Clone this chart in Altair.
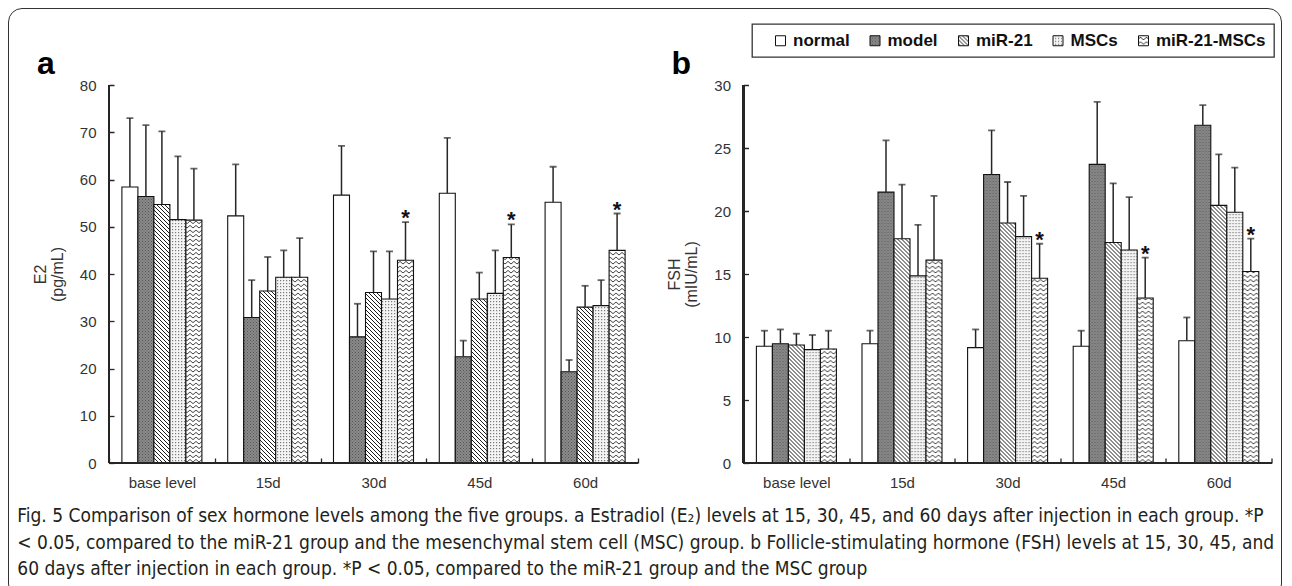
import altair as alt
import pandas as pd
import jinja2

# ---------------- data ----------------
TIMES = ["base level", "15d", "30d", "45d", "60d"]
GROUPS = ["normal", "model", "miR-21", "MSCs", "miR-21-MSCs"]

# Panel a: Estradiol (E2, pg/mL) — mean and SD per group over TIMES
E2_NORMAL = [58.4, 52.3, 56.7, 57.1, 55.2]
E2_MODEL = [56.4, 30.8, 26.7, 22.5, 19.3]
E2_MIR21 = [54.7, 36.4, 36.1, 34.7, 33.0]
E2_MSCS = [51.5, 39.3, 34.7, 35.9, 33.3]
E2_MIRMSCS = [51.4, 39.3, 42.9, 43.5, 45.0]
E2_SD_NORMAL = [14.6, 10.9, 10.4, 11.7, 7.5]
E2_SD_MODEL = [15.1, 7.9, 7.0, 3.4, 2.5]
E2_SD_MIR21 = [15.5, 7.2, 8.7, 5.6, 4.5]
E2_SD_MSCS = [13.4, 5.7, 10.1, 9.1, 5.4]
E2_SD_MIRMSCS = [10.9, 8.3, 8.1, 7.0, 7.8]

# Panel b: FSH (mIU/mL)
FSH_NORMAL = [9.26, 9.47, 9.16, 9.26, 9.7]
FSH_MODEL = [9.47, 21.5, 22.9, 23.7, 26.8]
FSH_MIR21 = [9.37, 17.8, 19.05, 17.5, 20.45]
FSH_MSCS = [9.0, 14.85, 17.97, 16.9, 19.9]
FSH_MIRMSCS = [9.05, 16.1, 14.66, 13.1, 15.2]
FSH_SD_NORMAL = [1.24, 1.03, 1.44, 1.24, 1.85]
FSH_SD_MODEL = [1.13, 4.1, 3.5, 4.96, 1.6]
FSH_SD_MIR21 = [0.89, 4.3, 3.25, 4.7, 4.05]
FSH_SD_MSCS = [1.16, 4.05, 3.23, 4.2, 3.55]
FSH_SD_MIRMSCS = [1.45, 5.1, 2.74, 3.2, 2.6]

# *P < 0.05 marks (miR-21-MSCs group)
SIG_GROUP = "miR-21-MSCs"
SIG_TIMES = ["30d", "45d", "60d"]

CAPTION = [
    "Fig. 5 Comparison of sex hormone levels among the five groups. a Estradiol (E\u2082) levels at 15, 30, 45, and 60 days after injection in each group. *P",
    "< 0.05, compared to the miR-21 group and the mesenchymal stem cell (MSC) group. b Follicle-stimulating hormone (FSH) levels at 15, 30, 45, and",
    "60 days after injection in each group. *P < 0.05, compared to the miR-21 group and the MSC group",
]

# ---------------- styling ----------------
FILLS = ["#ffffff", "url(#pModel)", "url(#pMir21)", "url(#pMSC)", "url(#pMirMSC)"]
FONT = "Liberation Sans, Arial, sans-serif"
INK = "#262626"

PATTERN_DEFS = """
<pattern id="pModel" patternUnits="userSpaceOnUse" width="3" height="3">
  <rect width="3" height="3" fill="#8a8a8a"/>
  <rect x="0" y="0" width="1" height="1" fill="#555"/>
  <rect x="1.5" y="1.5" width="1" height="1" fill="#606060"/>
</pattern>
<pattern id="pMir21" patternUnits="userSpaceOnUse" width="4" height="4">
  <rect width="4" height="4" fill="#fff"/>
  <path d="M-1,-1 L5,5 M-1,3 L1,5 M3,-1 L5,1" stroke="#1e1e1e" stroke-width="1"/>
</pattern>
<pattern id="pMSC" patternUnits="userSpaceOnUse" width="3" height="3">
  <rect width="3" height="3" fill="#f4f4f4"/>
  <rect width="1.2" height="1.2" fill="#7a7a7a"/>
</pattern>
<pattern id="pMirMSC" patternUnits="userSpaceOnUse" width="6" height="4.5">
  <rect width="6" height="4.5" fill="#fff"/>
  <path d="M0,3.6 L3,1 L6,3.6" fill="none" stroke="#1e1e1e" stroke-width="0.9"/>
</pattern>
"""

TEMPLATE = jinja2.Template("""<!DOCTYPE html>
<html>
<head>
<meta charset="utf-8">
<style>
  body { margin: 8px; }
  #{{ output_div }} svg.marks { border: 1.6px solid #333; border-radius: 14px; }
</style>
<script type="text/javascript" src="{{ base_url }}/vega@{{ vega_version }}"></script>
<script type="text/javascript" src="{{ base_url }}/vega-lite@{{ vegalite_version }}"></script>
<script type="text/javascript" src="{{ base_url }}/vega-embed@{{ vegaembed_version }}"></script>
</head>
<body>
<svg width="0" height="0" style="position:absolute" aria-hidden="true"><defs>
""" + PATTERN_DEFS + """
</defs></svg>
<div id="{{ output_div }}"></div>
<script type="text/javascript">
  vegaEmbed("#{{ output_div }}", {{ spec }}, {{ embed_options }}).catch(function (err) {
    document.getElementById("{{ output_div }}").innerText = String(err);
  });
</script>
</body>
</html>""")


def build_df(means, sds):
    rows = []
    for g, m, s in zip(GROUPS, means, sds):
        for t, mv, sv in zip(TIMES, m, s):
            rows.append({
                "time": t, "group": g, "mean": mv, "top": mv + sv,
                "star": "*" if (g == SIG_GROUP and t in SIG_TIMES) else "",
            })
    return pd.DataFrame(rows)


df_e2 = build_df([E2_NORMAL, E2_MODEL, E2_MIR21, E2_MSCS, E2_MIRMSCS],
                 [E2_SD_NORMAL, E2_SD_MODEL, E2_SD_MIR21, E2_SD_MSCS, E2_SD_MIRMSCS])
df_fsh = build_df([FSH_NORMAL, FSH_MODEL, FSH_MIR21, FSH_MSCS, FSH_MIRMSCS],
                  [FSH_SD_NORMAL, FSH_SD_MODEL, FSH_SD_MIR21, FSH_SD_MSCS, FSH_SD_MIRMSCS])

LEGEND = alt.Legend(title=" ", titleOrient="left", titleFontSize=17, titlePadding=12,
                    orient="none", legendX=643, legendY=-61,
                    direction="horizontal", columns=5, symbolType="square",
                    symbolSize=100, symbolStrokeColor="#111", symbolStrokeWidth=1,
                    labelFontSize=17, labelFontWeight="bold", labelColor="#111",
                    labelFont=FONT, columnPadding=16.5, labelOffset=4, padding=8,
                    strokeColor="#333")


def panel(df, ymax, ystep, ytitle, letter, width):
    xenc = alt.X("time:N", sort=TIMES,
                 scale=alt.Scale(domain=TIMES, paddingInner=0, paddingOuter=0),
                 axis=alt.Axis(title=None, labelAngle=0, domain=False, tickBand="extent",
                               tickSize=5, offset=-5, labelPadding=12, tickColor=INK,
                               tickWidth=1.3, labelColor="#333", labelFontSize=15))
    xo = alt.XOffset("group:N", sort=GROUPS,
                     scale=alt.Scale(domain=GROUPS, paddingInner=0, paddingOuter=0.806))
    yenc = alt.Y("mean:Q", scale=alt.Scale(domain=[0, ymax], nice=False),
                 axis=alt.Axis(values=list(range(0, ymax + 1, ystep)), title=ytitle,
                               grid=False, domain=False, offset=-5, tickSize=5,
                               labelPadding=13, titlePadding=14, tickColor=INK,
                               tickWidth=1.3, labelColor="#333", labelFontSize=15,
                               titleFontSize=16, titleFontWeight="normal", titleColor="#333",
                               titleLineHeight=17))
    fill = alt.Fill("group:N", sort=GROUPS, scale=alt.Scale(domain=GROUPS, range=FILLS),
                    legend=LEGEND)
    xs = alt.X("time:N", sort=TIMES)
    xos = alt.XOffset("group:N", sort=GROUPS)
    base = alt.Chart(df)
    bars = base.mark_bar(stroke="#111", strokeWidth=1.1).encode(
        x=xenc, xOffset=xo, y=yenc, fill=fill)
    err = base.mark_rule(color=INK, strokeWidth=1.5).encode(
        x=xs, xOffset=xos, y="mean:Q", y2="top:Q")
    cap = base.mark_tick(color=INK, thickness=1.8, size=7, orient="horizontal").encode(
        x=xs, xOffset=xos, y="top:Q")
    star = base.mark_text(fontSize=22, fontWeight="bold", color="#111", baseline="alphabetic",
                          dy=3, font=FONT).encode(x=xs, xOffset=xos, y="top:Q", text="star:N")
    xline = base.mark_rule(color=INK, strokeWidth=1.5).encode(y=alt.YDatum(0))
    yline = base.mark_rule(color=INK, strokeWidth=1.5).encode(
        x=alt.XDatum(TIMES[0], bandPosition=0))
    return alt.layer(bars, err, cap, star, xline, yline).properties(
        width=width, height=378,
        title=alt.Title(letter, anchor="start", frame="group", fontSize=32, fontWeight="bold",
                        color="#000", font=FONT, dx=-72, dy=32, offset=4, baseline="alphabetic"))


pa = panel(df_e2, 80, 10, ["E2", "(pg/mL)"], "a", 529)
pb = panel(df_fsh, 30, 5, ["FSH", "(mIU/mL)"], "b", 528)

chart = alt.hconcat(pa, pb, spacing=27.5).properties(
    padding={"left": 8, "top": 14, "right": 6, "bottom": 18},
    title=alt.Title(CAPTION, orient="bottom", anchor="start", frame="bounds", fontSize=19,
                    fontWeight="normal",
                    font="Liberation Sans Narrow, DejaVu Sans Condensed, sans-serif",
                    color="#231f20", lineHeight=26.5, offset=17, dx=-15),
).configure(font=FONT).configure_view(stroke="transparent", strokeWidth=0).configure_legend(
    strokeWidth=1.3)

chart.save("out.html", embed_options={"renderer": "svg", "actions": False}, template=TEMPLATE)
